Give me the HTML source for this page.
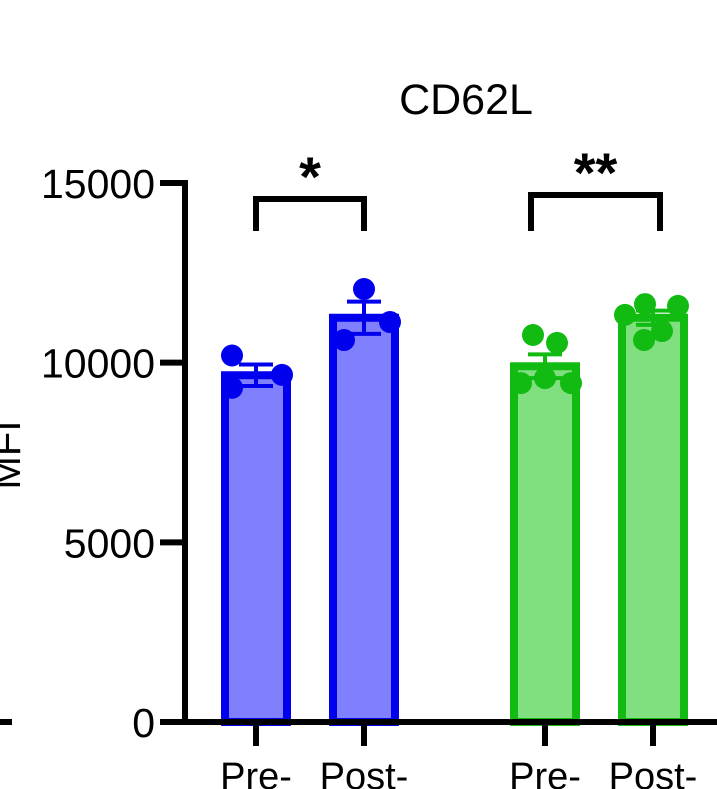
<!DOCTYPE html>
<html><head><meta charset="utf-8">
<style>
html,body{margin:0;padding:0;background:#fff;}
svg{display:block;font-family:"Liberation Sans",sans-serif;}
</style></head>
<body>
<svg id="chart" width="717" height="789" viewBox="0 0 717 789" xmlns="http://www.w3.org/2000/svg">
<text x="466" y="114" font-size="43" text-anchor="middle">CD62L</text>
<text transform="translate(20,455) rotate(-90)" font-size="40" text-anchor="middle">MFI</text>
<line x1="0" y1="722" x2="12" y2="722" stroke="#000" stroke-width="6"/>
<g id="plot"></g>
</svg>
<script>
const categories = ["Pre-", "Post-", "Pre-", "Post-"];
const means = [9650, 11250, 9900, 11250];
const sems = [300, 450, 330, 200];
const points = [
  [10200, 9660, 9300],
  [12050, 11130, 10630],
  [10770, 10550, 9430, 9570, 9430],
  [11630, 11580, 11330, 10880, 10630]
];
const yTicks = [0, 5000, 10000, 15000];
const sigLabels = ["*", "**"];

const NS = "http://www.w3.org/2000/svg";
const g = document.getElementById("plot");
const y = v => 722 - v * (539 / 15000);
const xc = [256, 364, 545, 653];
const pointOffsets = [[-24, 26, -24], [0, 26, -20], [-12, 12, -24, 0, 26], [-8, 25, -28, 9, -9]];
const stroke = ["#0000ee", "#0000ee", "#11bb11", "#11bb11"];
const fill = ["#8080ff", "#8080ff", "#80e080", "#80e080"];
function mk(tag, attrs) { const e = document.createElementNS(NS, tag); for (const k in attrs) e.setAttribute(k, attrs[k]); g.appendChild(e); return e; }

let e = mk("line", {x1: 185, y1: y(15000) - 3, x2: 185, y2: 722, stroke: "#000", "stroke-width": 6});


yTicks.forEach(t => {
  const l = mk("line", {x1: 160, y1: y(t), x2: 185, y2: y(t), stroke: "#000", "stroke-width": 6});
  
  
  const tx = mk("text", {x: 155, y: y(t) + 15, "font-size": 41, "text-anchor": "end"});
  tx.textContent = t;
  
  
});

categories.forEach((c, i) => {
  const w = 62;
  const r = mk("rect", {x: xc[i] - w / 2, y: y(means[i]), width: w, height: 722 - y(means[i]), fill: fill[i], stroke: stroke[i], "stroke-width": 8});
  
  
  const eb = mk("path", {d: `M${xc[i]},${y(means[i] - sems[i])}V${y(means[i] + sems[i])}M${xc[i] - 17},${y(means[i] + sems[i])}H${xc[i] + 17}M${xc[i] - 17},${y(means[i] - sems[i])}H${xc[i] + 17}`, stroke: stroke[i], "stroke-width": 4, fill: "none"});
  
  
  points[i].forEach((v, j) => {
    const p = mk("circle", {cx: xc[i] + pointOffsets[i][j], cy: y(v), r: 11, fill: stroke[i]});
    
    
  });
  const tk = mk("line", {x1: xc[i], y1: 722, x2: xc[i], y2: 746, stroke: "#000", "stroke-width": 6});
  
  
  const lb = mk("text", {x: xc[i], y: 789, "font-size": 38, "text-anchor": "middle"});
  lb.textContent = c;
  
  
});
e = mk("line", {x1: 160, y1: 722, x2: 717, y2: 722, stroke: "#000", "stroke-width": 6});



[[0, 1, 199], [2, 3, 195]].forEach((b, k) => {
  const x1 = k === 0 ? xc[0] : 531, x2 = k === 0 ? xc[1] : 660;
  const br = mk("path", {d: `M${x1},231V${b[2]}H${x2}V231`, stroke: "#000", "stroke-width": 6, fill: "none"});
  
  
  const st = mk("text", {x: (x1 + x2) / 2, y: k === 0 ? 196 : 192, "font-size": 56, "font-weight": "bold", "text-anchor": "middle"});
  st.textContent = sigLabels[k];
  
  
});
</script>
</body></html>
